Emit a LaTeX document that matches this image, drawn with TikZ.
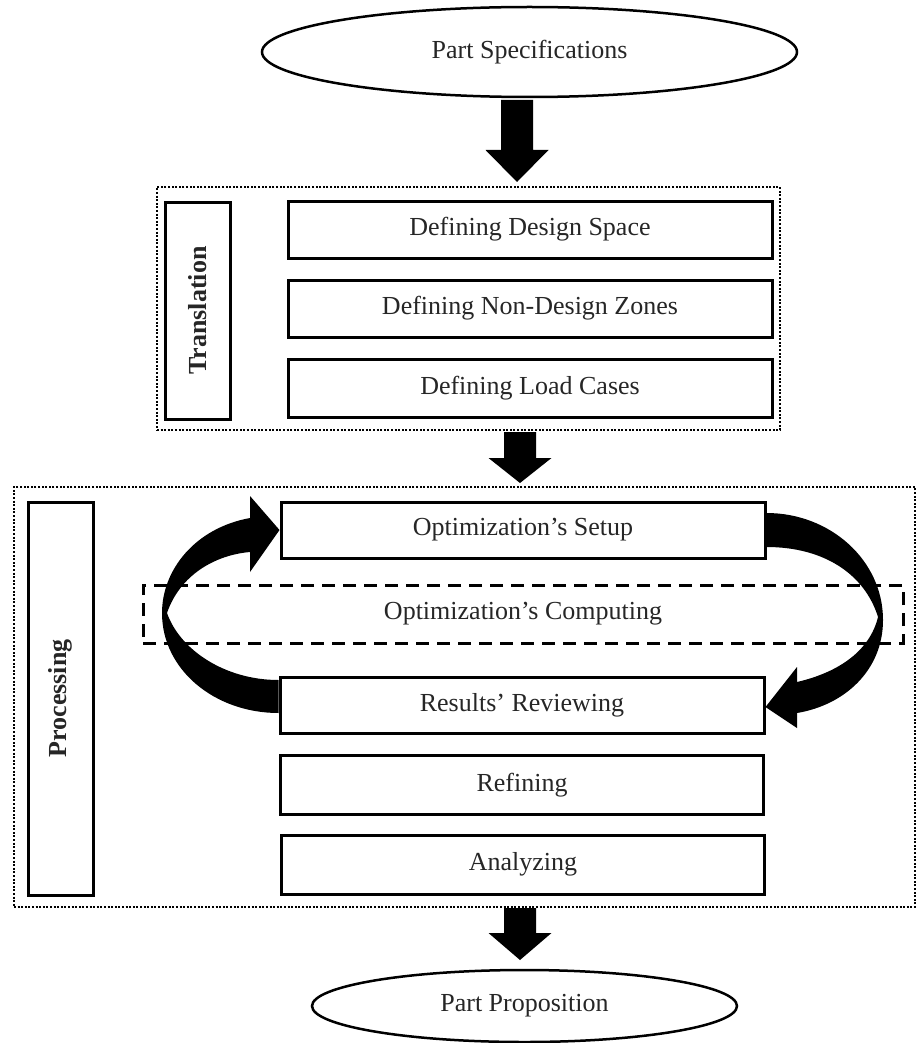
\documentclass[tikz,border=0pt]{standalone}
\usepackage{fontspec}
\setmainfont{Liberation Serif}
\usetikzlibrary{shapes.geometric}
\newcommand{\dnarrow}[4]{%
  \fill[black] (#1-16,#2) -- (#1+16,#2) -- (#1+16,#3) -- (#1+31.5,#3) -- (#1,#4) -- (#1-31.5,#3) -- (#1-16,#3) -- cycle;}
\begin{document}
\begin{tikzpicture}[x=1pt,y=-1pt,
  txt/.style={font=\fontsize{26}{30}\selectfont, text=black!85},
  stepbox/.style={draw, line width=3pt, rectangle, txt, minimum height=56, inner sep=0},
  labelbox/.style={draw, line width=3pt, rectangle, rotate=90, font=\fontsize{26}{30}\selectfont\bfseries, text=black!85, minimum height=65, inner sep=0},
  groupbox/.style={draw, line width=2pt, dash pattern=on 2pt off 1.6pt, rectangle, inner sep=0},
  oval/.style={draw, ellipse, line width=2.5pt, txt, inner sep=0}
]
\useasboundingbox (0,0) rectangle (917,1043);

% containers
\node[groupbox, minimum width=623, minimum height=243] (trans) at (468.5,308.5) {};
\node[groupbox, minimum width=901, minimum height=420] (proc) at (464.5,697) {};

% ovals
\node[oval, minimum width=535, minimum height=90] (spec) at (529.5,52) {Part Specifications};
\node[oval, minimum width=425, minimum height=72] (prop) at (524.5,1006) {Part Proposition};

% translation
\node[labelbox, minimum width=217] (tl) at (197.5,310.5) {Translation};
\node[stepbox, minimum width=484, minimum height=57] (d1) at (530,229.5) {Defining Design Space};
\node[stepbox, minimum width=484, minimum height=57] (d2) at (530,308.5) {Defining Non-Design Zones};
\node[stepbox, minimum width=484, minimum height=58] (d3) at (530,388) {Defining Load Cases};

% processing
\node[labelbox, minimum width=393] (pl) at (60.5,698.5) {Processing};
\node[stepbox, minimum width=484] (setup) at (523,530) {Optimization’s Setup};
\node[draw, line width=3pt, dash pattern=on 13pt off 8pt, rectangle, txt, minimum width=760, minimum height=58, inner sep=0] (comp) at (523,614) {Optimization’s Computing};
\node[stepbox, minimum width=484] (review) at (522,705) {Results’ Reviewing};
\node[stepbox, minimum width=483, minimum height=59] (refine) at (522,785) {Refining};
\node[stepbox, minimum width=483, minimum height=59] (analyze) at (523,864.5) {Analyzing};

% block arrows
\dnarrow{517}{100}{150}{182}
\dnarrow{520}{432}{458}{483}
\dnarrow{520}{908}{933}{960}

% curved loop arrows
\fill[black] (review.west |- 0,713) .. controls (215,713) and (162,670) .. (162,613)
  .. controls (162,570) and (195,528) .. (250,518) -- (250,496) -- (setup.west) -- (250,572) -- (250,552)
  .. controls (215,555) and (180,575) .. (167,613)
  .. controls (180,650) and (225,680) .. (review.west |- 0,680) -- cycle;
\fill[black] (setup.east |- 0,513) .. controls (830,513) and (883,560) .. (883,620)
  .. controls (883,670) and (845,705) .. (797,713) -- (797,728) -- (review.east |- 0,707) -- (797,667) -- (797,682)
  .. controls (840,672) and (870,650) .. (878,617)
  .. controls (865,575) and (825,547) .. (setup.east |- 0,547) -- cycle;
\end{tikzpicture}
\end{document}
